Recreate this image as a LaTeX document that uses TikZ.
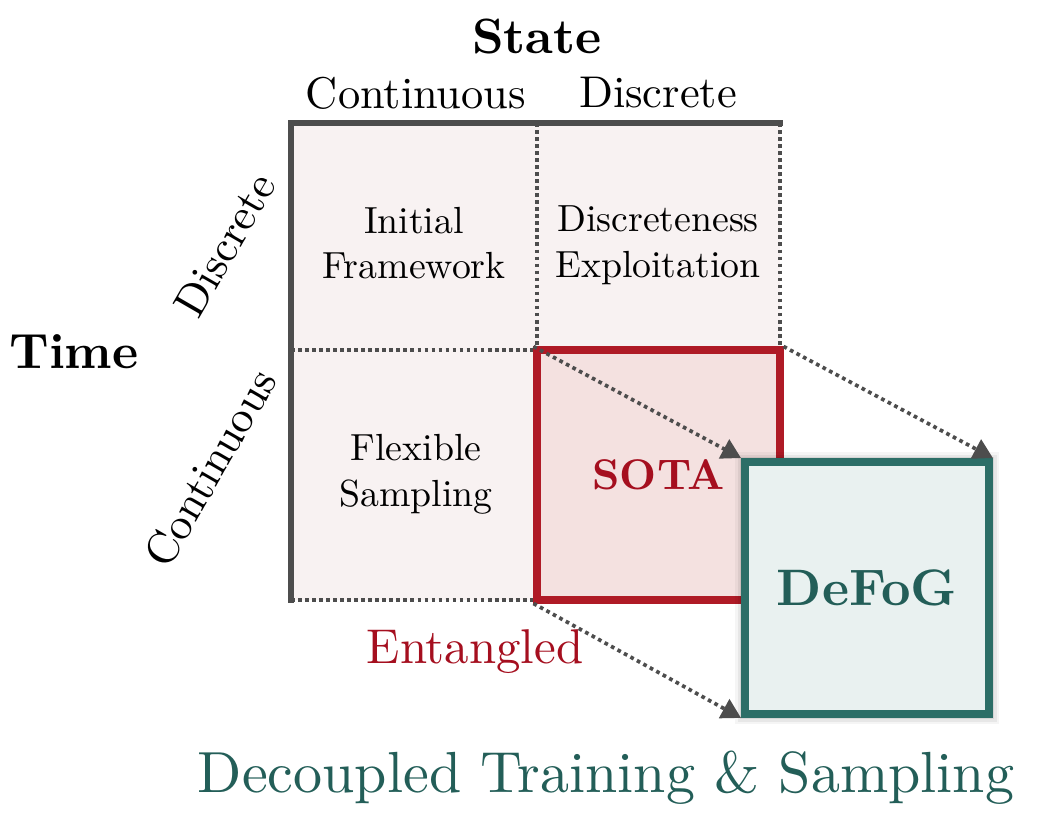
\documentclass[tikz,border=0pt]{standalone}
\usepackage{fontspec}
\setmainfont{lmroman10-regular}[Extension=.otf,BoldFont=lmroman10-bold,ItalicFont=lmroman10-italic]
\usetikzlibrary{arrows.meta}
\definecolor{gridfill}{HTML}{F8F2F2}
\definecolor{gridline}{HTML}{4D4D4D}
\definecolor{sotafill}{HTML}{F4E1E0}
\definecolor{sotaline}{HTML}{AF1A26}
\definecolor{sotatext}{HTML}{A50F1F}
\definecolor{defogfill}{HTML}{E9F1F0}
\definecolor{defogline}{HTML}{2C6E67}
\definecolor{defogtext}{HTML}{235E58}
\tikzset{
  hdr/.style={font=\fontsize{25.3}{30}\selectfont},
  hdrbold/.style={font=\fontsize{28.2}{34}\selectfont\bfseries},
  celltext/.style={align=center,font=\fontsize{21.5}{26}\selectfont},
  thickedge/.style={draw=gridline,line width=3pt,line cap=rect},
  dotedge/.style={draw=gridline,line width=2.1pt,dash pattern=on 2.1pt off 1.9pt},
  conn/.style={draw=gridline,line width=2.1pt,dash pattern=on 2.1pt off 2.1pt,-{Triangle[length=11pt,width=12pt]}},
}
\begin{document}
\begin{tikzpicture}
\useasboundingbox (0,0) rectangle (20.8,-16.6);
% grid background
\fill[gridfill] (5.82,-2.46) rectangle (15.6,-12.0);
\coordinate (tl) at (5.82,-2.46);
\coordinate (tm) at (10.74,-2.46);
\coordinate (tr) at (15.6,-2.46);
\coordinate (ml) at (5.82,-7.0);
\coordinate (mm) at (10.74,-7.0);
\coordinate (mr) at (15.6,-7.0);
\coordinate (bl) at (5.82,-12.0);
\coordinate (bm) at (10.74,-12.0);
\draw[dotedge] (tm) -- (mm);
\draw[dotedge] (tr) -- (mr);
\draw[dotedge] (ml) -- (mm);
\draw[dotedge] (bl) -- (bm);
\draw[thickedge] (bl) -- (tl) -- (tr);
% cell texts
\node[celltext] (c11) at (8.28,-4.86) {Initial\\Framework};
\node[celltext] (c12) at (13.16,-4.9) {Discreteness\\Exploitation};
\node[celltext] (c21) at (8.32,-9.48) {Flexible\\Sampling};
% SOTA
\node[draw=sotaline,fill=sotafill,line width=4pt,minimum width=4.86cm,minimum height=5.0cm,inner sep=0pt,
      font=\fontsize{24.4}{30}\selectfont\bfseries,text=sotatext] (sota) at (13.17,-9.5) {SOTA};
% DeFoG shadow
\foreach \s/\o in {0.2/0.04,0.15/0.06,0.1/0.08,0.05/0.1}{
  \fill[black,opacity=\o] (14.9-\s,-9.24+\s) rectangle (19.78+\s,-14.28-\s);
}
\node[draw=defogline,fill=defogfill,line width=4.5pt,minimum width=4.88cm,minimum height=5.04cm,inner sep=0pt,
      font=\fontsize{29.2}{34}\selectfont\bfseries,text=defogtext] (defog) at (17.34,-11.76) {\raisebox{-0.12cm}{DeFoG}};
% connectors
\draw[conn] (sota.north west) -- (defog.north west);
\draw[conn] (sota.north east) -- (defog.north east);
\draw[conn] (sota.south west) -- (defog.south west);
% headers
\node[hdrbold] (state) at (10.74,-0.74) {State};
\node[hdr] (scont) at (8.32,-1.86) {Continuous};
\node[hdr] (sdisc) at (13.16,-1.86) {Discrete};
\node[hdrbold] (time) at (1.48,-7.04) {Time};
\node[hdr,rotate=60] (tdisc) at (4.5,-4.9) {Discrete};
\node[hdr,rotate=60] (tcont) at (4.2,-9.36) {Continuous};
\node[font=\fontsize{27.8}{33}\selectfont,text=sotatext] (ent) at (9.5,-13.04) {Entangled};
\node[font=\fontsize{33}{40}\selectfont,text=defogtext] (dec) at (12.12,-15.56) {Decoupled Training \& Sampling};
\end{tikzpicture}
\end{document}
